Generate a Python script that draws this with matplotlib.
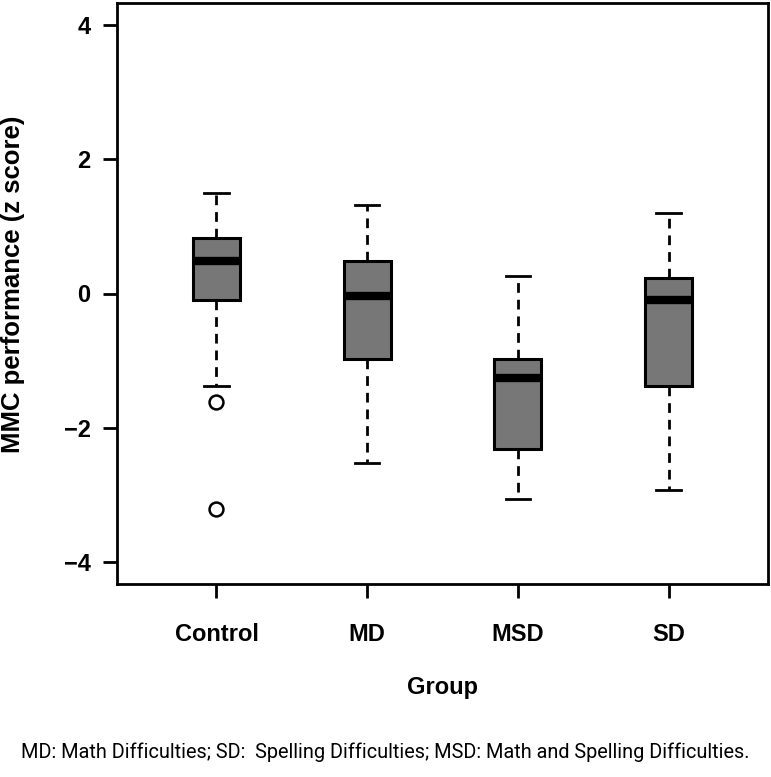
import matplotlib
matplotlib.use("Agg")
import matplotlib.pyplot as plt

# 그룹별 박스플롯 통계
groups = ["Control", "MD", "MSD", "SD"]
whisker_low = [-1.38, -2.52, -3.06, -2.92]
q1 = [-0.10, -0.98, -2.31, -1.37]
medians = [0.48, -0.03, -1.26, -0.10]
q3 = [0.83, 0.49, -0.98, 0.23]
whisker_high = [1.50, 1.32, 0.26, 1.19]
outliers = [[-1.61, -3.20], [], [], []]

W, H = 771, 777
fig = plt.figure(figsize=(W / 100, H / 100), dpi=100)
ax = fig.add_axes([117 / W, 1 - 584 / H, (768 - 117) / W, (584 - 3) / H])

stats = []
for i, g in enumerate(groups):
    stats.append(dict(label=g, whislo=whisker_low[i], q1=q1[i], med=medians[i],
                      q3=q3[i], whishi=whisker_high[i], fliers=outliers[i]))

ax.bxp(stats, positions=range(1, len(groups) + 1), widths=0.31, capwidths=0.16,
       patch_artist=True, showfliers=True,
       boxprops=dict(facecolor="#777777", edgecolor="black", linewidth=2.2),
       medianprops=dict(color="black", linewidth=6, solid_capstyle="butt"),
       whiskerprops=dict(color="black", linewidth=2, linestyle=(0, (3.5, 2.5))),
       capprops=dict(color="black", linewidth=2),
       flierprops=dict(marker="o", markersize=10, markerfacecolor="white",
                       markeredgecolor="black", markeredgewidth=1.8))

ax.set_xlim(0.34, 4.66)
ax.set_ylim(-4.32, 4.32)
ax.set_yticks([-4, -2, 0, 2, 4])
ax.set_yticklabels(["\u22124", "\u22122", "0", "2", "4"])

for s in ax.spines.values():
    s.set_linewidth(2)
ax.tick_params(length=10, width=2, pad=9, labelsize=17)
for lab in ax.get_xticklabels() + ax.get_yticklabels():
    lab.set_fontweight("bold")
    lab.set_fontfamily("Liberation Sans")
ax.tick_params(axis="x", pad=18)

ax.set_xlabel("Group", fontsize=17, fontweight="bold", family="Liberation Sans", labelpad=22)
ax.set_ylabel("MMC performance (z score)", fontsize=18.5, fontweight="bold",
              family="Liberation Sans")
ax.yaxis.set_label_coords(-0.141, 0.515)

fig.text(0.5, 1 - 752 / H,
         "MD: Math Difficulties; SD:  Spelling Difficulties; MSD: Math and Spelling Difficulties.",
         ha="center", va="center", fontsize=14.3,
         family=["Liberation Sans Narrow", "Roboto", "DejaVu Sans"])

fig.savefig("out.png", dpi=100)
